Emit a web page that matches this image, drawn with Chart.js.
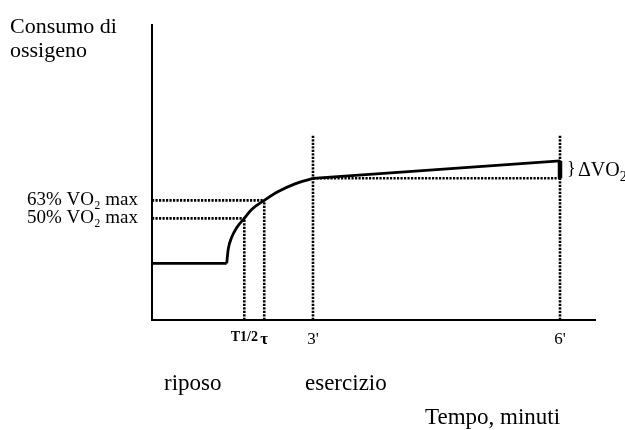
<!DOCTYPE html>
<html>
<head>
<meta charset="utf-8">
<script src="https://cdn.jsdelivr.net/npm/chart.js@4/dist/chart.umd.min.js"></script>
<style>
  body { margin: 0; background: #fff; }
  #box { width: 625px; height: 430px; }
</style>
</head>
<body>
<div id="box"><canvas id="grafico"></canvas></div>
<script>
// tempo in minuti, consumo di ossigeno in unità arbitrarie (0-100)
const tempoRiposo = [1.045, 1.952];
const vo2Riposo = [19.2, 19.2];
const tempoRisposta = [1.952, 1.971, 2.012, 2.073, 2.166, 2.255, 2.408, 2.579, 2.781, 3];
const vo2Risposta = [19.2, 24.1, 28.0, 31.3, 34.5, 37.5, 40.6, 43.6, 46.2, 48.1];
const tempoEsercizio = [3, 6];
const vo2Esercizio = [48.1, 54];

const tempiTick = [2.166, 2.408, 3, 6];
const etichetteTempo = ['T1/2', 'τ', "3'", "6'"];
const livelliVO2 = [34.5, 40.6];
const etichetteVO2 = ['50% VO₂ max', '63% VO₂ max'];
const altezzaGuide = 62.8;

const xMin = 1.045;
const xMax = 6.425;
const FONT = "'Liberation Serif', 'Times New Roman', serif";

const punti = (xs, ys) => xs.map((x, i) => ({ x, y: ys[i] }));

const linea = (data, extra) => Object.assign({
    data,
    showLine: true,
    borderColor: '#000',
    borderWidth: 2.6,
    pointRadius: 0,
    fill: false
}, extra);

const tratteggio = data => linea(data, { borderDash: [2.2, 1.3], borderWidth: 2.6 });

const datasets = [
    // guide tratteggiate
    tratteggio([{ x: xMin, y: livelliVO2[0] }, { x: tempiTick[0], y: livelliVO2[0] }]),
    tratteggio([{ x: xMin, y: livelliVO2[1] }, { x: tempiTick[1], y: livelliVO2[1] }]),
    tratteggio([{ x: tempiTick[0], y: 0 }, { x: tempiTick[0], y: livelliVO2[0] }]),
    tratteggio([{ x: tempiTick[1], y: 0 }, { x: tempiTick[1], y: livelliVO2[1] }]),
    tratteggio([{ x: tempiTick[2], y: 0 }, { x: tempiTick[2], y: altezzaGuide }]),
    tratteggio([{ x: tempiTick[3], y: 0 }, { x: tempiTick[3], y: altezzaGuide }]),
    tratteggio([{ x: tempoEsercizio[0], y: vo2Esercizio[0] }, { x: tempoEsercizio[1], y: vo2Esercizio[0] }]),
    // curva del consumo
    linea(punti(tempoRiposo, vo2Riposo), { borderWidth: 2.8 }),
    linea(punti(tempoRisposta, vo2Risposta), { borderWidth: 2.8, cubicInterpolationMode: 'monotone' }),
    linea(punti(tempoEsercizio, vo2Esercizio), { borderWidth: 2.8 }),
    // delta VO2
    linea([{ x: tempoEsercizio[1], y: vo2Esercizio[0] }, { x: tempoEsercizio[1], y: vo2Esercizio[1] }], { borderWidth: 4.5 })
];

const testi = {
    id: 'testi',
    afterDraw(chart) {
        const ctx = chart.ctx;
        const x = chart.scales.x;
        const y = chart.scales.y;
        ctx.save();
        ctx.fillStyle = '#000';
        ctx.textAlign = 'left';
        ctx.textBaseline = 'alphabetic';
        ctx.font = '22px ' + FONT;
        ctx.fillText('Consumo di', 10, 33);
        ctx.fillText('ossigeno', 10, 57);
        ctx.font = '23px ' + FONT;
        ctx.fillText('riposo', 164, 390);
        ctx.fillText('esercizio', 305, 390);
        ctx.fillText('Tempo, minuti', 425, 424);

        // graffa e etichetta delta
        const xd = x.getPixelForValue(tempoEsercizio[1]);
        const ym = (y.getPixelForValue(vo2Esercizio[0]) + y.getPixelForValue(vo2Esercizio[1])) / 2;
        ctx.textBaseline = 'middle';
        ctx.font = '18px ' + FONT;
        ctx.fillText('}', xd + 7, ym);
        ctx.font = '20px ' + FONT;
        ctx.fillText('ΔVO', xd + 18, ym + 1);
        const w = ctx.measureText('ΔVO').width;
        ctx.font = '14px ' + FONT;
        ctx.fillText('2', xd + 18 + w, ym + 8);
        ctx.restore();
    }
};

new Chart(document.getElementById('grafico'), {
    type: 'scatter',
    data: { datasets },
    plugins: [testi],
    options: {
        responsive: true,
        maintainAspectRatio: false,
        animation: false,
        layout: { padding: { top: 22, right: 30, left: 0, bottom: 0 } },
        plugins: {
            legend: { display: false },
            tooltip: { enabled: false },
            title: { display: false }
        },
        scales: {
            x: {
                type: 'linear',
                min: xMin,
                max: xMax,
                grid: { display: false, drawTicks: false },
                border: { display: true, color: '#000', width: 2 },
                afterBuildTicks: s => { s.ticks = tempiTick.map(v => ({ value: v })); },
                afterFit: s => { s.height = 110; },
                ticks: {
                    color: '#000',
                    padding: 9,
                    autoSkip: false,
                    maxRotation: 0,
                    font: c => c.index === 0
                        ? { family: FONT, size: 14, weight: 'bold' }
                        : c.index === 1
                            ? { family: FONT, size: 17, weight: 'bold' }
                            : { family: FONT, size: 17 },
                    callback: (v, i) => etichetteTempo[i]
                }
            },
            y: {
                type: 'linear',
                min: 0,
                max: 100,
                grid: { display: false, drawTicks: false },
                border: { display: true, color: '#000', width: 2 },
                afterBuildTicks: s => { s.ticks = livelliVO2.map(v => ({ value: v })); },
                afterFit: s => { s.width = 152; },
                ticks: {
                    color: '#000',
                    padding: 14,
                    autoSkip: false,
                    font: { family: FONT, size: 19 },
                    callback: (v, i) => etichetteVO2[i]
                }
            }
        }
    }
});
</script>
</body>
</html>
